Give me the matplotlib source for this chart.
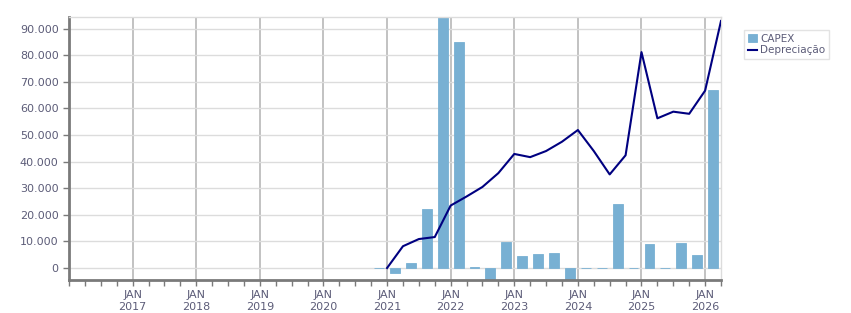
import matplotlib
matplotlib.use("Agg")
import matplotlib.pyplot as plt
from matplotlib.ticker import FuncFormatter, FixedLocator

# quarterly data, Q4 2020 .. Q1 2026 (bars) and Jan 2021 .. Apr 2026 (line)
capex_quarters = ["2020Q4", "2021Q1", "2021Q2", "2021Q3", "2021Q4", "2022Q1", "2022Q2",
                  "2022Q3", "2022Q4", "2023Q1", "2023Q2", "2023Q3", "2023Q4", "2024Q1",
                  "2024Q2", "2024Q3", "2024Q4", "2025Q1", "2025Q2", "2025Q3", "2025Q4",
                  "2026Q1"]
capex = [150, -1900, 1800, 22100, 96000, 85000, 500, -5000, 9800, 4400, 5150, 5500,
         -5000, 100, 100, 24000, 100, 8900, 100, 9300, 4800, 66800]

dep_dates = ["2021-01", "2021-04", "2021-07", "2021-10", "2022-01", "2022-04", "2022-07",
             "2022-10", "2023-01", "2023-04", "2023-07", "2023-10", "2024-01", "2024-04",
             "2024-07", "2024-10", "2025-01", "2025-04", "2025-07", "2025-10", "2026-01",
             "2026-04"]
depreciacao = [0, 8200, 10900, 11650, 23500, 26900, 30500, 35700, 42900, 41700, 44000,
               47500, 51900, 44000, 35200, 42400, 81200, 56300, 58800, 58000, 66700, 92900]

years = list(range(2017, 2027))


def q_center(q):
    y, n = q.split("Q")
    return int(y) + (int(n) - 1) * 0.25 + 0.125


def ym(s):
    y, m = s.split("-")
    return int(y) + (int(m) - 1) / 12.0


txt = "#5c5c78"
fig = plt.figure(figsize=(8.51, 3.13), dpi=100)
ax = fig.add_axes([69 / 851, 1 - 280 / 313, (721 - 69) / 851, (280 - 17) / 313])

bx = [q_center(q) for q in capex_quarters]
bars = ax.bar(bx, capex, width=0.155, color="#78b0d3", edgecolor="#78b0d3", linewidth=0.6,
              label="CAPEX", zorder=2)
lx = [ym(d) for d in dep_dates]
line, = ax.plot(lx, depreciacao, color="#000080", lw=1.5, label="Depreciação", zorder=3)

ax.set_xlim(2016.0, 2026.25)
ax.set_ylim(-4500, 94400)

ax.set_yticks(range(0, 90001, 10000))
ax.yaxis.set_major_formatter(FuncFormatter(lambda v, p: f"{int(v):,}".replace(",", ".")))
ax.set_xticks(years)
ax.set_xticklabels([f"JAN\n{y}" for y in years])
ax.xaxis.set_minor_locator(FixedLocator([2016 + i * 0.25 for i in range(42)]))

ax.grid(axis="y", color="#dcdcdc", lw=1, zorder=0)
ax.grid(axis="x", color="#b8b8b8", lw=1.2, zorder=0)
ax.set_axisbelow(True)

for s in ["top", "right"]:
    ax.spines[s].set_color("#dcdcdc")
    ax.spines[s].set_linewidth(1)
for s in ["left", "bottom"]:
    ax.spines[s].set_color("#7a7a7a")
    ax.spines[s].set_linewidth(2)

ax.tick_params(axis="y", colors="#7a7a7a", labelcolor=txt, labelsize=8, length=4, width=1)
ax.tick_params(axis="x", which="both", colors="#7a7a7a", labelcolor=txt, labelsize=8,
               length=4, width=1)

leg = ax.legend([bars, line], ["CAPEX", "Depreciação"], loc="upper left",
                bbox_to_anchor=(744 / 851, 1 - 30 / 313),
                bbox_transform=fig.transFigure, fontsize=7.5, frameon=True, fancybox=False,
                borderpad=0.35, handlelength=0.9, handletextpad=0.3, labelspacing=0.15,
                borderaxespad=0)
leg.get_frame().set_edgecolor("#dcdcdc")
leg.get_frame().set_linewidth(1)
for t in leg.get_texts():
    t.set_color(txt)

fig.savefig("out.png", dpi=100)
